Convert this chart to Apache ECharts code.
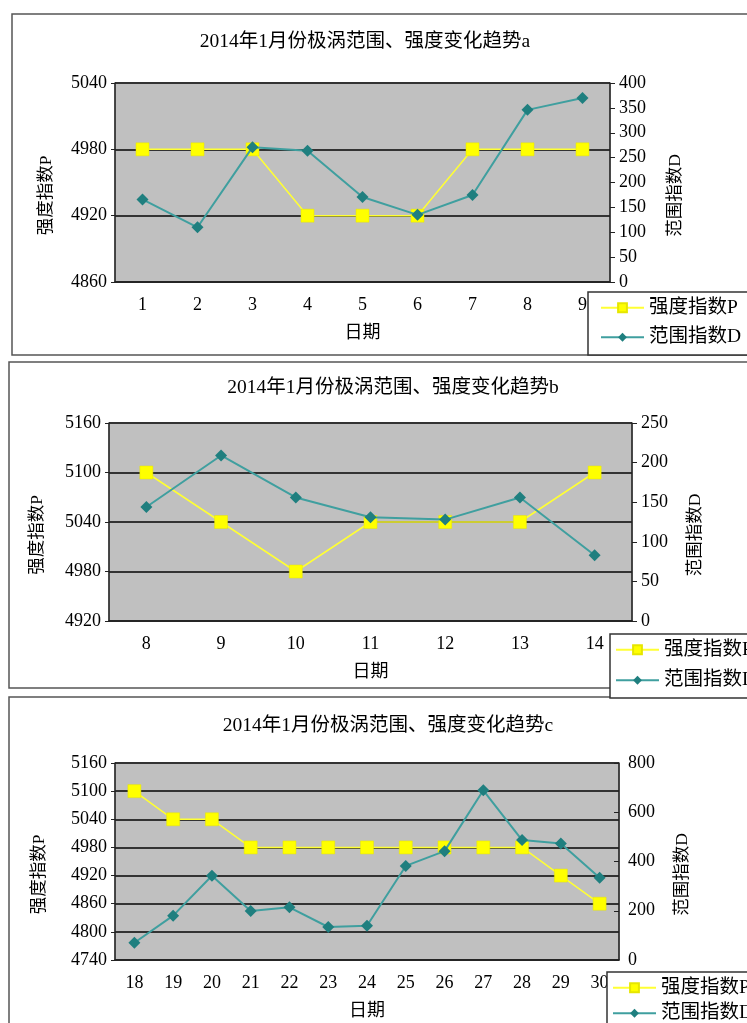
<!DOCTYPE html>
<html><head><meta charset="utf-8">
<script src="https://cdn.jsdelivr.net/npm/echarts@6/dist/echarts.min.js"></script>
<style>html,body{margin:0;padding:0;background:#fff}#c{width:747px;height:1023px}</style>
</head><body><div id="c"></div>
<script>
const titles = ['2014年1月份极涡范围、强度变化趋势a','2014年1月份极涡范围、强度变化趋势b','2014年1月份极涡范围、强度变化趋势c'];
const catsA = ['1','2','3','4','5','6','7','8','9'];
const pA = [4980,4980,4980,4920,4920,4920,4980,4980,4980];
const dA = [166,110,271,264,171,135,175,346,370];
const catsB = ['8','9','10','11','12','13','14'];
const pB = [5100,5040,4980,5040,5040,5040,5100];
const dB = [144,209,156,131,128,156,83];
const catsC = ['18','19','20','21','22','23','24','25','26','27','28','29','30'];
const pC = [5100,5040,5040,4980,4980,4980,4980,4980,4980,4980,4980,4920,4860];
const dC = [70,180,342,199,214,134,139,382,442,689,487,473,334];
const pTicksA = [4860,5040,60], dTicksA = [0,400,50];
const pTicksB = [4920,5160,60], dTicksB = [0,250,50];
const pTicksC = [4740,5160,60], dTicksC = [0,800,200];

const FONT = '"Liberation Serif","Noto Sans CJK SC",serif';
const panels = [
  {cats:catsA,p:pA,d:dA,pt:pTicksA,dt:dTicksA,grid:{left:115,width:495,top:83,height:199},title:{x:360,y:27},leg:{left:588,top:292,gap:10,pl:12},lname:60,rname:57,xname:42,rin:false},
  {cats:catsB,p:pB,d:dB,pt:pTicksB,dt:dTicksB,grid:{left:109,width:523,top:423,height:198},title:{x:388,y:373},leg:{left:610,top:634,gap:11,pl:5},lname:63,rname:55,xname:42,rin:false},
  {cats:catsC,p:pC,d:dC,pt:pTicksC,dt:dTicksC,grid:{left:115,width:504,top:763,height:197},title:{x:383,y:711},leg:{left:607,top:972,gap:6,pl:5},lname:67,rname:55,xname:42,rin:true}
];
const fmt = v => String(v);
const option = {backgroundColor:'#fff',animation:false,title:[],grid:[],xAxis:[],yAxis:[],series:[],legend:[],
  graphic:[
    {type:'rect',shape:{x:12,y:14,width:740,height:341},style:{fill:'none',stroke:'#555',lineWidth:1.5},z:-1},
    {type:'rect',shape:{x:9,y:362,width:745,height:326},style:{fill:'none',stroke:'#555',lineWidth:1.5},z:-1},
    {type:'rect',shape:{x:9,y:697,width:745,height:335},style:{fill:'none',stroke:'#555',lineWidth:1.5},z:-1}
  ]};
panels.forEach((pn,i)=>{
  option.title.push({text:titles[i],left:pn.title.x,top:pn.title.y,textAlign:'center',textStyle:{fontFamily:FONT,fontSize:19.5,fontWeight:'normal',color:'#000'}});
  option.grid.push({left:pn.grid.left,width:pn.grid.width,top:pn.grid.top,height:pn.grid.height,show:true,backgroundColor:'#c0c0c0',borderColor:'#808080',borderWidth:1});
  option.xAxis.push({type:'category',gridIndex:i,data:pn.cats,boundaryGap:true,name:'日期',nameLocation:'middle',nameGap:pn.xname,
    nameTextStyle:{fontFamily:FONT,fontSize:18,color:'#000'},
    axisLine:{lineStyle:{color:'#222',width:1.5}},axisTick:{inside:true,length:6,lineStyle:{color:'#222'}},
    axisLabel:{fontFamily:FONT,fontSize:18,color:'#000',margin:14}});
  option.yAxis.push({type:'value',gridIndex:i,position:'left',min:pn.pt[0],max:pn.pt[1],interval:pn.pt[2],
    name:'强度指数P',nameLocation:'middle',nameGap:pn.lname,nameRotate:90,nameTextStyle:{fontFamily:FONT,fontSize:17.5,color:'#000',padding:[0,26,0,0]},
    axisLine:{show:true,lineStyle:{color:'#222',width:1.5}},axisTick:{show:true,length:4,lineStyle:{color:'#222'}},
    axisLabel:{fontFamily:FONT,fontSize:18,color:'#000',margin:8,formatter:fmt},
    splitLine:{show:true,lineStyle:{color:'#333',width:2}}});
  option.yAxis.push({type:'value',gridIndex:i,position:'right',min:pn.dt[0],max:pn.dt[1],interval:pn.dt[2],
    name:'范围指数D',nameLocation:'middle',nameGap:pn.rname,nameRotate:90,nameTextStyle:{fontFamily:FONT,fontSize:17.5,color:'#000',padding:[0,26,0,0]},
    axisLine:{show:true,lineStyle:{color:'#222',width:1.5}},axisTick:{show:true,inside:pn.rin,length:5,lineStyle:{color:'#222'}},
    axisLabel:{fontFamily:FONT,fontSize:18,color:'#000',margin:9,formatter:fmt},splitLine:{show:false}});
  option.series.push({name:'强度指数P',type:'line',xAxisIndex:i,yAxisIndex:2*i,data:pn.p,symbol:'rect',symbolSize:13,
    lineStyle:{color:'#ffff33',width:1.5},itemStyle:{color:'#ffff00',borderColor:'#e6e600',borderWidth:0.5},z:3});
  option.series.push({name:'范围指数D',type:'line',xAxisIndex:i,yAxisIndex:2*i+1,data:pn.d,symbol:'diamond',symbolSize:12,
    lineStyle:{color:'#3f9f9f',width:2},itemStyle:{color:'#1f7f7f'},z:4});
  option.legend.push({left:pn.leg.left,top:pn.leg.top,height:80,orient:'vertical',itemGap:pn.leg.gap,itemWidth:43,itemHeight:11,
    padding:[6,30,8,pn.leg.pl],borderColor:'#333',borderWidth:1.5,backgroundColor:'#fff',
    data:[{name:'强度指数P'},{name:'范围指数D'}],
    textStyle:{fontFamily:FONT,fontSize:19.5,color:'#000'}});
});
const chart = echarts.init(document.getElementById('c'),null,{renderer:'canvas'});
chart.setOption(option);
</script></body></html>
